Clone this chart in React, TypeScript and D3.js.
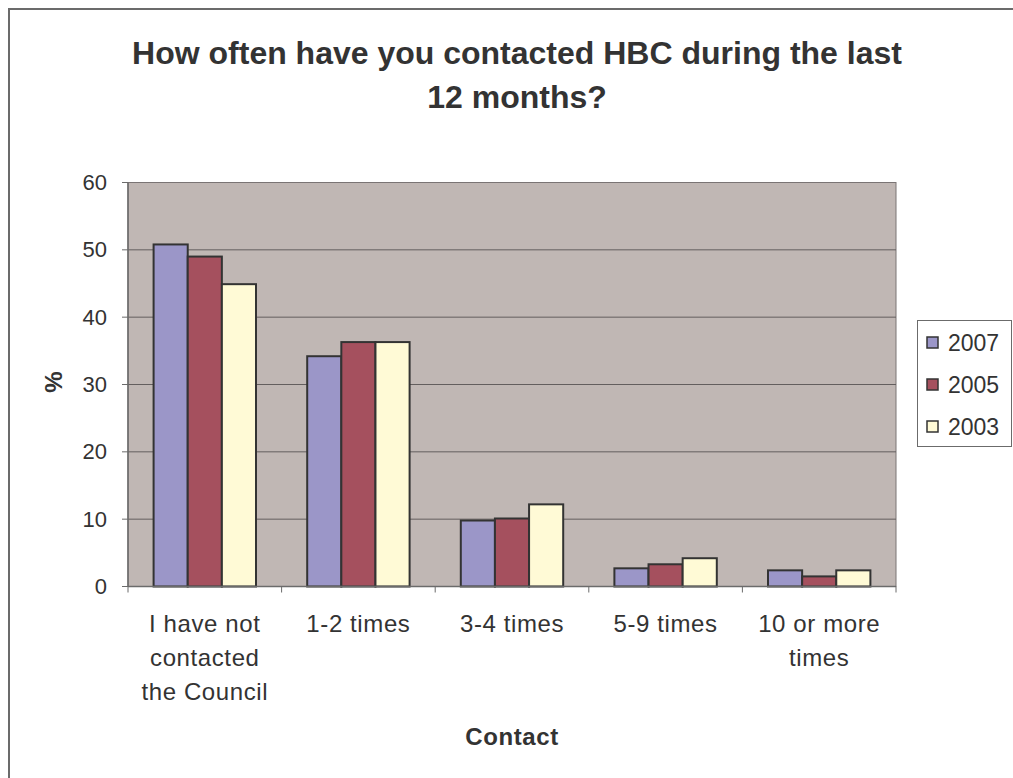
import React from "react";
import * as d3 from "d3";

const categories = ["I have not contacted the Council", "1-2 times", "3-4 times", "5-9 times", "10 or more times"];
const categoryLines = [["I have not", "contacted", "the Council"], ["1-2 times"], ["3-4 times"], ["5-9 times"], ["10 or more", "times"]];
const seriesNames = ["2007", "2005", "2003"];
const values2007 = [50.8, 34.2, 9.8, 2.7, 2.4];
const values2005 = [49.0, 36.3, 10.1, 3.3, 1.5];
const values2003 = [44.9, 36.3, 12.2, 4.2, 2.4];
const seriesColors = ["#9b96c8", "#a5505e", "#fffad6"];
const yTicks = [0, 10, 20, 30, 40, 50, 60];

export default function App() {
  const W = 1013, H = 778;
  const left = 128, right = 896, top = 182.5, bottom = 586.5;
  const series = [values2007, values2005, values2003];
  const x0 = d3.scaleBand().domain(categories).range([left, right]).paddingInner(0).paddingOuter(0);
  const gw = x0.bandwidth();
  const x1 = d3.scaleBand().domain(seriesNames).range([gw * 0.75 / 4.5, gw - gw * 0.75 / 4.5]);
  const y = d3.scaleLinear().domain([0, 60]).range([bottom, top]);
  const font = "'Liberation Sans', Arial, sans-serif";
  const textColor = "#333";
  return (
    <svg width={W} height={H} style={{ position: "absolute", left: 0, top: 0 }} fontFamily={font}>
      <rect x={0} y={0} width={W} height={H} fill="#fff" />
      <rect x={9} y={9} width={W + 20} height={H + 20} fill="#fff" stroke="#6b6b6b" strokeWidth={2} />
      <text x={517} y={64} textAnchor="middle" fontSize={32} fontWeight="bold" fill={textColor}>How often have you contacted HBC during the last</text>
      <text x={517} y={108} textAnchor="middle" fontSize={32} fontWeight="bold" fill={textColor}>12 months?</text>
      <rect x={left} y={top} width={right - left} height={bottom - top} fill="#c0b7b4" stroke="#7a7474" strokeWidth={1} />
      {yTicks.map((t) => (
        <g key={t}>
          {t > 0 && t < 60 && <line x1={left} x2={right} y1={y(t)} y2={y(t)} stroke="#635e5e" strokeWidth={1} />}
          <line x1={left - 6} x2={left} y1={y(t)} y2={y(t)} stroke="#6b6b6b" strokeWidth={1} />
          <text x={107} y={y(t) + 7.5} textAnchor="end" fontSize={22} fill={textColor}>{t}</text>
        </g>
      ))}
      {series.map((vals, si) =>
        vals.map((v, ci) => (
          <rect key={si + "-" + ci}
            x={x0(categories[ci])! + x1(seriesNames[si])!}
            y={y(v)}
            width={x1.bandwidth()}
            height={bottom - y(v)}
            fill={seriesColors[si]} stroke="#333" strokeWidth={2} />
        ))
      )}
      <line x1={left} x2={right} y1={bottom} y2={bottom} stroke="#6b6b6b" strokeWidth={1.5} />
      <line x1={left} x2={left} y1={top} y2={bottom} stroke="#6b6b6b" strokeWidth={1.5} />
      {d3.range(6).map((i) => (
        <line key={i} x1={left + i * gw} x2={left + i * gw} y1={bottom} y2={bottom + 6} stroke="#6b6b6b" strokeWidth={1} />
      ))}
      {categories.map((c, ci) => (
        <text key={c} textAnchor="middle" fontSize={24} letterSpacing={0.6} fill={textColor}>
          {categoryLines[ci].map((ln, li) => (
            <tspan key={li} x={x0(c)! + gw / 2} y={632 + li * 34}>{ln}</tspan>
          ))}
        </text>
      ))}
      <text x={512} y={745} textAnchor="middle" fontSize={24} letterSpacing={0.6} fontWeight="bold" fill={textColor}>Contact</text>
      <text transform="translate(62,382) rotate(-90)" textAnchor="middle" fontSize={24} fontWeight="bold" fill={textColor}>%</text>
      <rect x={917.5} y={320.5} width={94} height={126} fill="#fff" stroke="#6b6b6b" strokeWidth={1} />
      {seriesNames.map((s, i) => (
        <g key={s}>
          <rect x={927} y={337 + i * 42} width={11} height={11} fill={seriesColors[i]} stroke="#333" strokeWidth={1.5} />
          <text x={948} y={351 + i * 42} fontSize={23} fill={textColor}>{s}</text>
        </g>
      ))}
    </svg>
  );
}
